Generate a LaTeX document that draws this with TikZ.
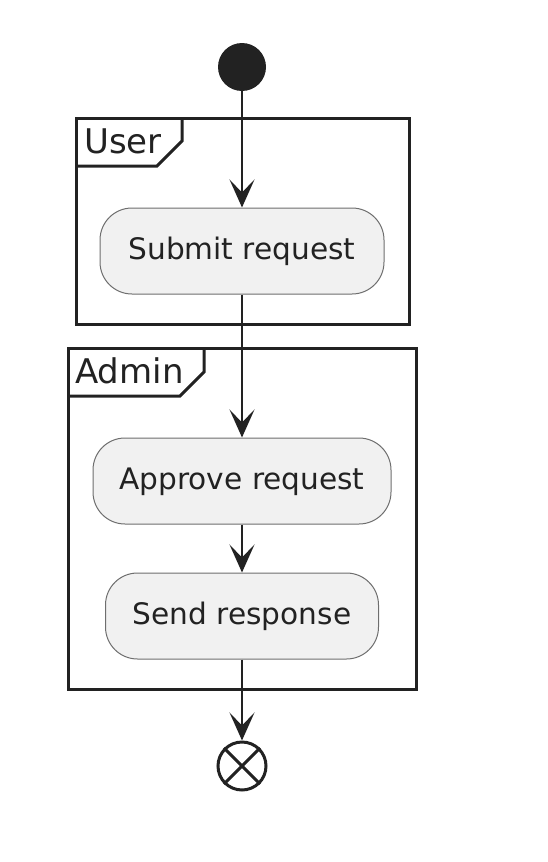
\documentclass[tikz,border=0pt]{standalone}
\usepackage{fontspec}
\setmainfont{DejaVu Sans}
\usetikzlibrary{arrows.meta}
\definecolor{actfill}{HTML}{F1F1F1}
\definecolor{actline}{HTML}{6E6E6E}
\definecolor{ink}{HTML}{222222}

\begin{document}
\begin{tikzpicture}[x=1pt,y=-1pt,
    action/.style={draw=actline, line width=1pt, fill=actfill, rounded corners=32pt,
        minimum height=86pt, inner sep=0pt, text=ink, text height=19pt, text depth=3pt,
        font=\fontsize{29.6}{35}\selectfont},
    flow/.style={draw=ink, line width=2.2pt,
        -{Stealth[length=28pt, width=25pt, inset=13pt]}},
    partition/.style={draw=ink, line width=3pt},
    label/.style={anchor=base west, inner sep=0pt, text=ink,
        font=\fontsize{34}{40}\selectfont}]
    \useasboundingbox (0,0) rectangle (548,862);
    % partitions
    \draw [partition] (76,118) rectangle (409,324);
    \draw [partition] (76,166) -- (157,166) -- (182,141) -- (182,118);
    \node [label] (user) at (84,153) {User};
    \draw [partition] (68,348) rectangle (416,689);
    \draw [partition] (68,396) -- (180,396) -- (204,372) -- (204,348);
    \node [label] (admin) at (75,383) {Admin};
    % start and stop
    \node [circle, fill=ink, minimum size=48pt, inner sep=0pt] (start) at (242,67) {};
    \node [circle, draw=ink, line width=3pt, fill=white, minimum size=48pt, inner sep=0pt] (stop) at (242,766) {};
    \draw [ink, line width=3pt] (stop.north west) -- (stop.south east);
    \draw [ink, line width=3pt] (stop.north east) -- (stop.south west);
    % actions
    \node [action, minimum width=284pt] (submit) at (242,251) {Submit request};
    \node [action, minimum width=298pt] (approve) at (242,481) {Approve request};
    \node [action, minimum width=273pt] (send) at (242,616) {Send response};
    % flow
    \draw [flow] (start) -- (submit);
    \draw [flow] (submit) -- (approve);
    \draw [flow] (approve) -- (send);
    \draw [flow] (send) -- (stop);
\end{tikzpicture}
\end{document}
